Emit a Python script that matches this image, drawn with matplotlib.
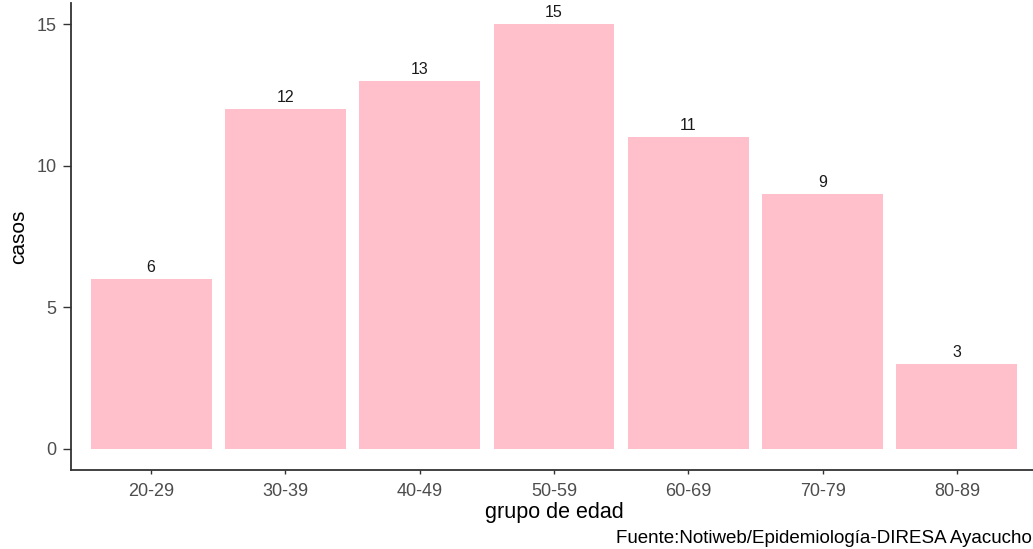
import numpy as np
import matplotlib
matplotlib.use('Agg')
from matplotlib import pyplot as plt

plt.rcParams['font.family'] = ['Liberation Sans', 'DejaVu Sans']

grupos = ['20-29', '30-39', '40-49', '50-59', '60-69', '70-79', '80-89']
casos = [6, 12, 13, 15, 11, 9, 3]

W, H = 1033, 549
fig = plt.figure(figsize=(W / 100, H / 100), dpi=100)
ax = fig.add_axes([70.5 / W, 79 / H, 967 / W, 467 / H])

x = np.arange(1, len(grupos) + 1)
ax.bar(x, casos, width=0.9, color='#FFC0CB')
for xi, v in zip(x, casos):
    ax.text(xi, v + 0.15, str(v), ha='center', va='bottom', fontsize=11.5, color='#1a1a1a')

ax.set_xlim(0.4, len(grupos) + 0.6)
ax.set_ylim(-0.75, 15.75)
ax.set_xticks(x)
ax.set_xticklabels(grupos)
ax.set_yticks([0, 5, 10, 15])

for s in ['top', 'right']:
    ax.spines[s].set_visible(False)
for s in ['left', 'bottom']:
    ax.spines[s].set_color('#333333')
    ax.spines[s].set_linewidth(1.3)

ax.tick_params(axis='x', length=3, width=1, color='#333333', labelcolor='#4D4D4D', labelsize=13, pad=6)
ax.tick_params(axis='y', length=6, width=1, color='#333333', labelcolor='#4D4D4D', labelsize=13, pad=4)

ax.set_xlabel('grupo de edad', fontsize=15.5, color='black', labelpad=2)
ax.set_ylabel('casos', fontsize=15, color='black', labelpad=6)

fig.text(1032 / W, 1 - 543 / H, 'Fuente:Notiweb/Epidemiología-DIRESA Ayacucho',
         ha='right', va='baseline', fontsize=13.5, color='black')

fig.savefig('out.png', dpi=100)
